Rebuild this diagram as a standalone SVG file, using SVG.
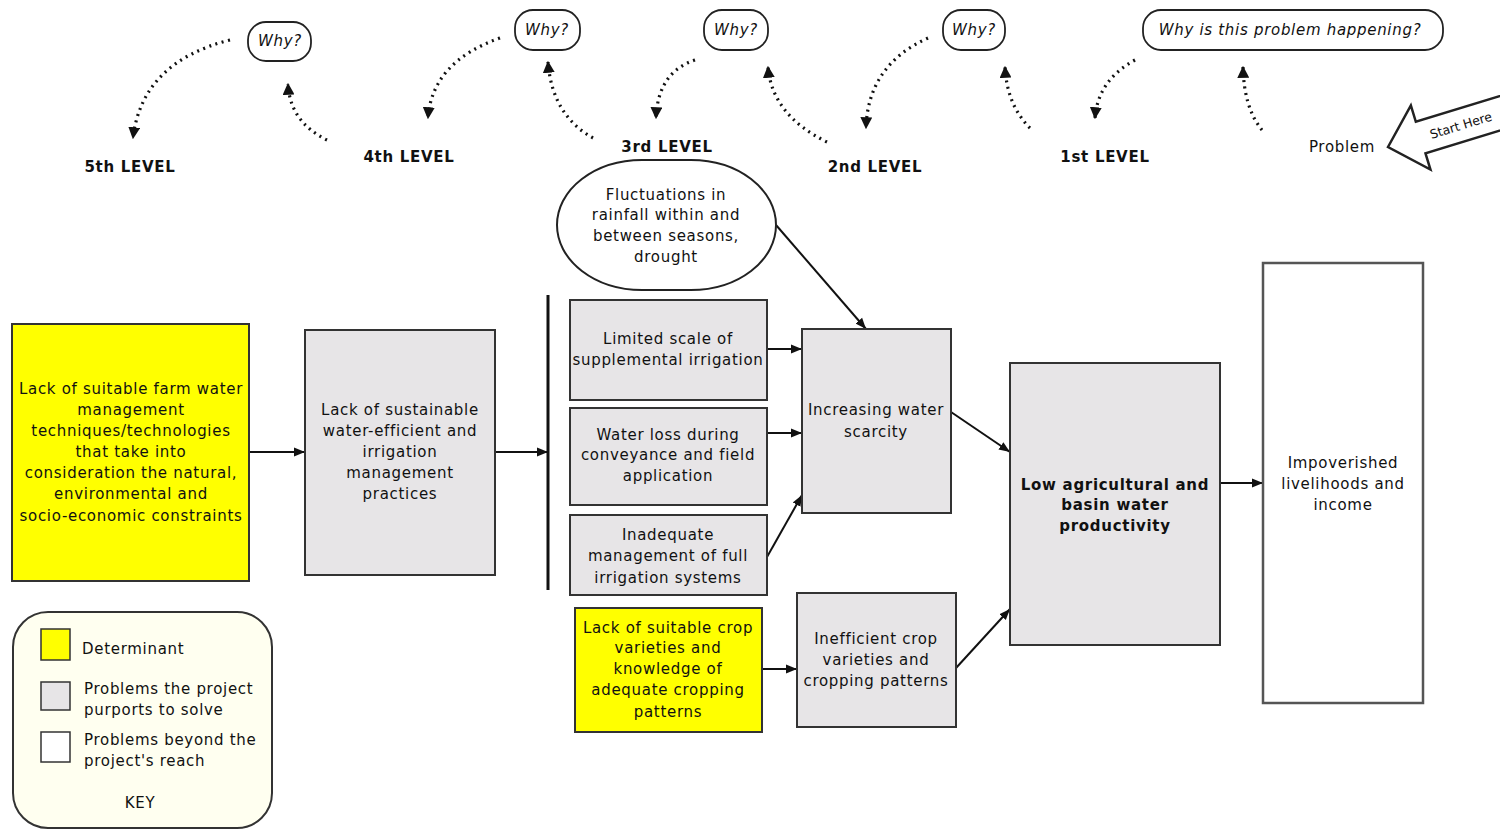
<svg xmlns="http://www.w3.org/2000/svg" width="1500" height="829" viewBox="0 0 1500 829">
<style>
text{font-family:"DejaVu Sans","Verdana",sans-serif;font-size:15px;fill:#111;text-anchor:middle;letter-spacing:0.7px}
.lvl{font-weight:bold;font-size:15px}
.why{font-style:italic;font-size:15px}
.bold{font-weight:bold}
.yel{fill:#ffff00;stroke:#333;stroke-width:2}
.gry{fill:#e7e5e7;stroke:#333;stroke-width:2}
.wht{fill:#fff;stroke:#555;stroke-width:2.5}
.con{stroke:#111;stroke-width:2;fill:none;marker-end:url(#ah)}
.dot{stroke:#111;stroke-width:3.2;fill:none;stroke-dasharray:2 4.5;marker-end:url(#dh)}
.leg{text-anchor:start}
</style>
<defs>
<marker id="ah" viewBox="0 0 10 10" refX="10" refY="5" markerWidth="11" markerHeight="11" markerUnits="userSpaceOnUse" orient="auto"><path d="M0,1 L10,5 L0,9 z" fill="#111"/></marker>
<marker id="dh" viewBox="0 0 10 10" refX="9" refY="5" markerWidth="12" markerHeight="12" markerUnits="userSpaceOnUse" orient="auto"><path d="M0,0 L10,5 L0,10 z" fill="#111"/></marker>
</defs>
<rect width="1500" height="829" fill="#fff"/>

<g id="header">
<g id="why1"><rect x="248" y="22" width="63" height="39" rx="18" fill="#fff" stroke="#222" stroke-width="1.8"/><text class="why" x="280" y="46">Why?</text></g>
<g id="why2"><rect x="515" y="10" width="65" height="40" rx="18" fill="#fff" stroke="#222" stroke-width="1.8"/><text class="why" x="547" y="35">Why?</text></g>
<g id="why3"><rect x="704" y="10" width="64" height="40" rx="18" fill="#fff" stroke="#222" stroke-width="1.8"/><text class="why" x="736" y="35">Why?</text></g>
<g id="why4"><rect x="943" y="10" width="62" height="40" rx="18" fill="#fff" stroke="#222" stroke-width="1.8"/><text class="why" x="974" y="35">Why?</text></g>
<g id="why5"><rect x="1143" y="10" width="300" height="40" rx="18" fill="#fff" stroke="#222" stroke-width="1.8"/><text class="why" x="1290" y="35">Why is this problem happening?</text></g>
<text class="lvl" x="130" y="172">5th LEVEL</text>
<text class="lvl" x="409" y="162">4th LEVEL</text>
<text class="lvl" x="667" y="152">3rd LEVEL</text>
<text class="lvl" x="875" y="172">2nd LEVEL</text>
<text class="lvl" x="1105" y="162">1st LEVEL</text>
<text x="1342" y="152">Problem</text>
<g id="start-here" transform="translate(1388,147) rotate(-17)">
<polygon points="0,0 34,-33 34,-16 150,-16 150,17 34,17 34,34" fill="#fff" stroke="#222" stroke-width="2.5" stroke-linejoin="miter"/>
<text x="76" y="5" style="font-size:12.5px;letter-spacing:0">Start Here</text>
</g>
</g>

<g id="connectors">
<path class="dot" d="M230,40 Q142,62 133,138"/>
<path class="dot" d="M327,140 Q290,122 288,84"/>
<path class="dot" d="M500,38 Q432,62 428,118"/>
<path class="dot" d="M593,138 Q552,115 548,62"/>
<path class="dot" d="M695,60 Q658,72 656,118"/>
<path class="dot" d="M827,142 Q772,115 768,67"/>
<path class="dot" d="M928,38 Q868,65 866,128"/>
<path class="dot" d="M1030,128 Q1007,105 1005,67"/>
<path class="dot" d="M1135,60 Q1098,80 1095,118"/>
<path class="dot" d="M1262,130 Q1244,108 1243,67"/>
<path class="con" d="M250,452 L305,452"/>
<path class="con" d="M496,452 L548,452"/>
<line x1="548" y1="295" x2="548" y2="590" stroke="#111" stroke-width="3"/>
<path class="con" d="M767,349 L802,349"/>
<path class="con" d="M767,433 L802,433"/>
<path class="con" d="M767,557 L802,495"/>
<path class="con" d="M776,225 L866,329"/>
<path class="con" d="M951,412 L1010,452"/>
<path class="con" d="M762,669 L797,669"/>
<path class="con" d="M956,668 L1010,609"/>
<path class="con" d="M1220,483 L1263,483"/>
</g>

<g id="n-farm-water">
<rect class="yel" x="12" y="324" width="237" height="257"/>
<text x="131" y="394">Lack of suitable farm water</text>
<text x="131" y="415">management</text>
<text x="131" y="436">techniques/technologies</text>
<text x="131" y="457">that take into</text>
<text x="131" y="478">consideration the natural,</text>
<text x="131" y="499">environmental and</text>
<text x="131" y="521">socio-economic constraints</text>
</g>

<g id="n-sustainable">
<rect class="gry" x="305" y="330" width="190" height="245"/>
<text x="400" y="415">Lack of sustainable</text>
<text x="400" y="436">water-efficient and</text>
<text x="400" y="457">irrigation</text>
<text x="400" y="478">management</text>
<text x="400" y="499">practices</text>
</g>

<g id="n-rainfall">
<rect x="557" y="160" width="219" height="130" rx="85" ry="65" fill="#fff" stroke="#222" stroke-width="2"/>
<text x="666" y="200">Fluctuations in</text>
<text x="666" y="220">rainfall within and</text>
<text x="666" y="241">between seasons,</text>
<text x="666" y="262">drought</text>
</g>

<g id="n-limited">
<rect class="gry" x="570" y="300" width="197" height="100"/>
<text x="668" y="344">Limited scale of</text>
<text x="668" y="365">supplemental irrigation</text>
</g>

<g id="n-waterloss">
<rect class="gry" x="570" y="408" width="197" height="97"/>
<text x="668" y="440">Water loss during</text>
<text x="668" y="460">conveyance and field</text>
<text x="668" y="481">application</text>
</g>

<g id="n-inadequate">
<rect class="gry" x="570" y="515" width="197" height="80"/>
<text x="668" y="540">Inadequate</text>
<text x="668" y="561">management of full</text>
<text x="668" y="583">irrigation systems</text>
</g>

<g id="n-crop-knowledge">
<rect class="yel" x="575" y="608" width="187" height="124"/>
<text x="668" y="633">Lack of suitable crop</text>
<text x="668" y="653">varieties and</text>
<text x="668" y="674">knowledge of</text>
<text x="668" y="695">adequate cropping</text>
<text x="668" y="717">patterns</text>
</g>

<g id="n-scarcity">
<rect class="gry" x="802" y="329" width="149" height="184"/>
<text x="876" y="415">Increasing water</text>
<text x="876" y="437">scarcity</text>
</g>

<g id="n-inefficient">
<rect class="gry" x="797" y="593" width="159" height="134"/>
<text x="876" y="644">Inefficient crop</text>
<text x="876" y="665">varieties and</text>
<text x="876" y="686">cropping patterns</text>
</g>

<g id="n-productivity">
<rect class="gry" x="1010" y="363" width="210" height="282"/>
<text class="bold" x="1115" y="490">Low  agricultural and</text>
<text class="bold" x="1115" y="510">basin water</text>
<text class="bold" x="1115" y="531">productivity</text>
</g>

<g id="n-livelihoods">
<rect class="wht" x="1263" y="263" width="160" height="440"/>
<text x="1343" y="468">Impoverished</text>
<text x="1343" y="489">livelihoods and</text>
<text x="1343" y="510">income</text>
</g>

<g id="key">
<rect x="13" y="612" width="259" height="216" rx="35" fill="#fffff0" stroke="#333" stroke-width="2"/>
<rect x="41" y="629" width="29" height="31" fill="#ffff00" stroke="#333" stroke-width="1.5"/>
<rect x="41" y="682" width="29" height="28" fill="#e7e5e7" stroke="#333" stroke-width="1.5"/>
<rect x="41" y="732" width="29" height="30" fill="#fff" stroke="#333" stroke-width="1.5"/>
<text class="leg" x="82" y="654">Determinant</text>
<text class="leg" x="84" y="694">Problems the project</text>
<text class="leg" x="84" y="715">purports to solve</text>
<text class="leg" x="84" y="745">Problems beyond the</text>
<text class="leg" x="84" y="766">project's reach</text>
<text x="140" y="808">KEY</text>
</g>
</svg>
